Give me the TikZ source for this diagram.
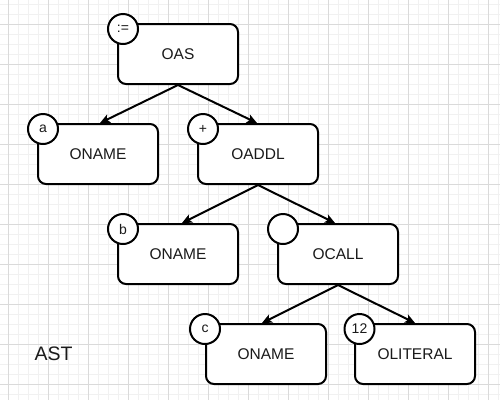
\documentclass[tikz,border=0pt]{standalone}
\usepackage{fontspec}
\setmainfont{Liberation Sans}
\usetikzlibrary{arrows.meta}
\definecolor{gridminor}{HTML}{F1F1F1}
\definecolor{gridmajor}{HTML}{DADADA}
\definecolor{txt}{HTML}{1A1A1A}
\tikzset{
  astbox/.style={draw=black, line width=2pt, rounded corners=8pt, fill=white,
    minimum width=120pt, minimum height=60pt, inner sep=0pt, text=txt,
    font=\fontsize{15.5}{18}\selectfont},
  tag/.style={draw=black, line width=2pt, circle, fill=white, minimum size=30pt,
    inner sep=0pt, text=txt, font=\fontsize{14}{16}\selectfont},
  arr/.style={line width=2pt, -{Stealth[length=10pt,width=9pt,inset=2.5pt]}},
  caption/.style={text=txt, font=\fontsize{19.5}{22}\selectfont, inner sep=0pt}
}
\begin{document}
\begin{tikzpicture}[x=1pt,y=-1pt]
\useasboundingbox (0,0) rectangle (500,400);
\fill[white] (0,0) rectangle (500,400);
% grid
\foreach \x in {8,18,...,498} \draw[gridminor, line width=0.8pt] (\x,0) -- (\x,400);
\foreach \y in {4,14,...,394} \draw[gridminor, line width=0.8pt] (0,\y) -- (500,\y);
\foreach \x in {8,48,...,488} \draw[gridmajor, line width=0.8pt] (\x,0) -- (\x,400);
\foreach \y in {24,64,...,384} \draw[gridmajor, line width=0.8pt] (0,\y) -- (500,\y);
% boxes
\node[astbox] (oas)   at (178,54)  {OAS};
\node[astbox] (na)    at (98,154)  {ONAME};
\node[astbox] (addl)  at (258,154) {OADDL};
\node[astbox] (nb)    at (178,254) {ONAME};
\node[astbox] (call)  at (338,254) {OCALL};
\node[astbox] (nc)    at (266,354) {ONAME};
\node[astbox] (lit)   at (415,354) {OLITERAL};
% tags
\node[tag] (toas)  at (123,29)  {:=};
\node[tag] (tna)   at (43,129)  {a};
\node[tag] (taddl) at (203,129) {+};
\node[tag] (tnb)   at (123,229) {b};
\node[tag] (tcall) at (283,229) {};
\node[tag] (tnc)   at (205,329) {c};
\node[tag] (tlit)  at (359.5,329) {12};
% caption
\node[caption] (ast) at (53.5,354) {AST};
% connectors
\draw[arr] (oas.south) -- ([xshift=2pt]na.north);
\draw[arr] (oas.south) -- ([xshift=-1pt]addl.north);
\draw[arr] (addl.south) -- ([xshift=4pt]nb.north);
\draw[arr] (addl.south) -- ([xshift=-3pt]call.north);
\draw[arr] (call.south) -- ([xshift=-4pt]nc.north);
\draw[arr] (call.south) -- (lit.north);
\end{tikzpicture}
\end{document}
